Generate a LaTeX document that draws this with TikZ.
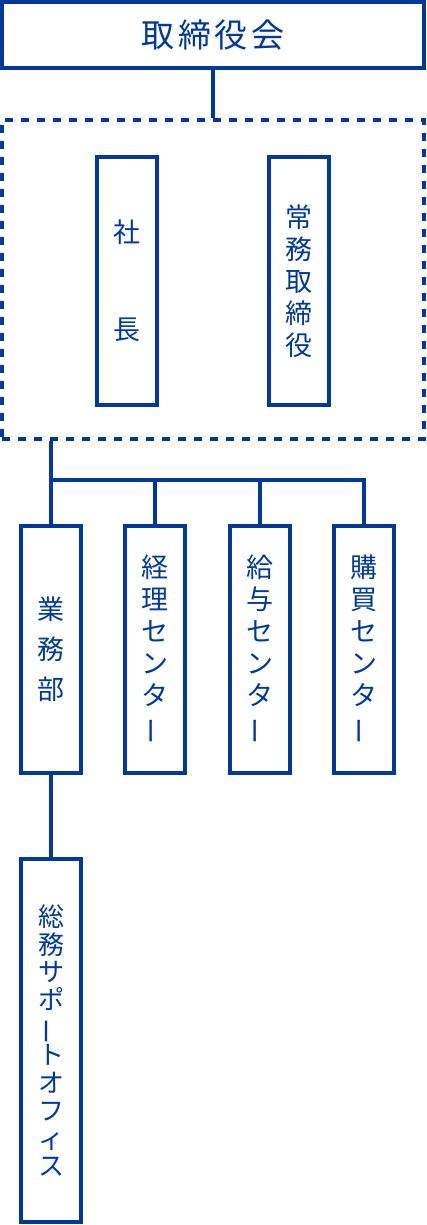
\documentclass[tikz,border=0pt]{standalone}
\usepackage{fontspec}
\usepackage{graphicx}
\newfontfamily\jpfont{Noto Sans CJK JP}
\newfontfamily\jptitle[LetterSpace=11]{Noto Sans CJK JP}
\definecolor{orgblue}{RGB}{0,57,153}
\newcommand{\chouon}{\rotatebox[origin=c]{90}{ー}}
\begin{document}
\begin{tikzpicture}[x=1pt,y=-1pt,
  box/.style={draw=orgblue,line width=4pt,inner sep=0pt,align=center,text=orgblue},
  post/.style={box,minimum width=60pt,minimum height=247pt,font=\jpfont\fontsize{27pt}{32pt}\selectfont},
  link/.style={draw=orgblue,line width=4pt}]
\useasboundingbox (0,0) rectangle (426,1225);
\node[box,minimum width=422pt,minimum height=66pt,font=\jptitle\fontsize{33pt}{36pt}\selectfont] (board) at (213,35) {取締役会};
\node[box,dash pattern=on 8pt off 8pt,minimum width=422pt,minimum height=319pt] (execs) at (213,279.5) {};
\node[post,minimum height=248pt] (president) at (127,281) {社\\[65pt]長};
\node[post,minimum height=248pt] (director) at (299,281) {常\\務\\取\\締\\役};

\node[post] (gyomu) at (51,649.5) {業\\[8pt]務\\[8pt]部};
\node[post] (keiri) at (155.3,649.5) {経\\理\\セ\\ン\\タ\\\chouon};
\node[post] (kyuyo) at (259.6,649.5) {給\\与\\セ\\ン\\タ\\\chouon};
\node[post] (kobai) at (363.9,649.5) {購\\買\\セ\\ン\\タ\\\chouon};
\node[post,minimum height=363pt,font=\jpfont\fontsize{26pt}{27.7pt}\selectfont] (somu) at (51,1040.5) {総\\務\\サ\\ポ\\\chouon\\ト\\オ\\フ\\ィ\\ス};

\coordinate (bus) at (51,480);
\path[link] (board) -- (execs);
\path[link] (execs.south -| gyomu.north) -- (gyomu.north);
\path[link] (bus) -| (kobai.north);
\path[link] (keiri.north |- bus) -- (keiri.north);
\path[link] (kyuyo.north |- bus) -- (kyuyo.north);
\path[link] (gyomu) -- (somu);
\end{tikzpicture}
\end{document}
